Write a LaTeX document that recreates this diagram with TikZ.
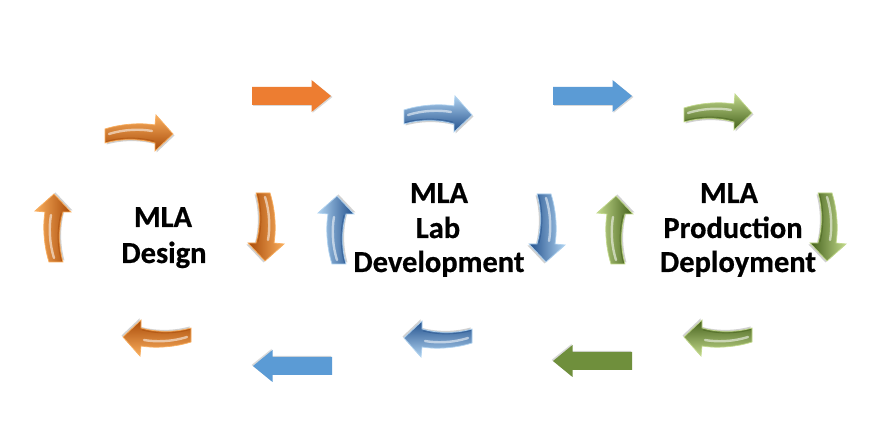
\documentclass[tikz,border=0pt]{standalone}
\usepackage{fontspec}
\setmainfont{Carlito}[BoldFeatures={FakeBold=0.6}]
\definecolor{Lorg}{HTML}{F9AE5E}
\definecolor{org}{HTML}{E9821F}
\definecolor{Dorg}{HTML}{A84A08}
\definecolor{Lblu}{HTML}{AFD2F0}
\definecolor{blu}{HTML}{5090D2}
\definecolor{Dblu}{HTML}{22508C}
\definecolor{Lgrn}{HTML}{C2D98C}
\definecolor{grn}{HTML}{7FA23A}
\definecolor{Dgrn}{HTML}{44601B}
\definecolor{forg}{HTML}{ED7D31}
\definecolor{fblu}{HTML}{5B9BD5}
\definecolor{fgrn}{HTML}{6F8F3C}
\tikzset{
  bevang/.store in=\bevang, bevang=0,
  bevcol/.store in=\bevcol, bevcol=org,
  flatcol/.store in=\flatcol, flatcol=forg,
  bev/.pic={
    \fill[black,opacity=0.18] (-32.5,-11.5) -- (-32.5,2.5) .. controls (-13.5,8.5) and (6.5,8.5) .. (17.5,6.5) -- (18.5,16.5) -- (35.5,-2.5) -- (17.5,-19.5) -- (17.5,-11.5) .. controls (3.5,-7.5) and (-14.5,-6.5) .. cycle;
    \shade[top color=L\bevcol, middle color=\bevcol, bottom color=D\bevcol, shading angle=\bevang, draw=L\bevcol, line width=0.7pt]
      (-34,-10) -- (-34,4) .. controls (-15,10) and (5,10) .. (16,8) -- (17,18) -- (34,-1) -- (16,-18) -- (16,-10) .. controls (2,-6) and (-16,-5) .. cycle;
    \draw[white,opacity=0.55,line width=2.4pt,line cap=round] (-30,-1) .. controls (-14,4) and (2,4) .. (13,2);
    \draw[D\bevcol,opacity=0.5,line width=0.8pt] (-33,-8.5) .. controls (-16,-3.5) and (2,-4.5) .. (15,-8);
  },
  flat/.pic={
    \fill[black,opacity=0.15] (-38.5,8) -- (21,8) -- (21,15) -- (41,-1) -- (21,-17) -- (21,-10) -- (-38.5,-10) -- cycle;
    \fill[\flatcol] (-39.5,9) -- (20,9) -- (20,16) -- (39.5,0) -- (20,-16) -- (20,-9) -- (-39.5,-9) -- cycle;
  },
  lbl/.style={font=\fontsize{30.5}{35}\selectfont\bfseries, inner sep=0pt, anchor=base}
}
\begin{document}
\begin{tikzpicture}[x=1pt,y=1pt]
\useasboundingbox[fill=white] (0,0) rectangle (876,433);
% flat arrows
\pic[flatcol=forg] at (291.5,337) {flat};
\pic[flatcol=fblu] at (592.5,337) {flat};
\pic[flatcol=fblu, rotate=180] at (292.5,67) {flat};
\pic[flatcol=fgrn, rotate=180] at (592.5,72) {flat};
% bevel arrows - orange
\pic[bevcol=org, bevang=90, rotate=90] at (53,205) {bev};
\pic[bevcol=org, bevang=0] at (139,300) {bev};
\pic[bevcol=org, bevang=-90, rotate=-90] at (266,206) {bev};
\pic[bevcol=org, bevang=180, rotate=180] at (157,95) {bev};
% blue
\pic[bevcol=blu, bevang=90, rotate=90] at (336,203) {bev};
\pic[bevcol=blu, bevang=0] at (438,319) {bev};
\pic[bevcol=blu, bevang=-90, rotate=-90] at (547,205) {bev};
\pic[bevcol=blu, bevang=180, rotate=180] at (438,94) {bev};
% green
\pic[bevcol=grn, bevang=90, rotate=90] at (615,203) {bev};
\pic[bevcol=grn, bevang=0] at (718,321) {bev};
\pic[bevcol=grn, bevang=-90, rotate=-90] at (828,206) {bev};
\pic[bevcol=grn, bevang=180, rotate=180] at (718,95) {bev};
% labels
\node[lbl] (d1) at (163,206) {MLA};
\node[lbl] (d2) at (164,170) {Design};
\node[lbl] (l1) at (439,230) {MLA};
\node[lbl] (l2) at (438,195) {Lab};
\node[lbl] (l3) at (439,161) {Development};
\node[lbl] (p1) at (729,230) {MLA};
\node[lbl] (p2) at (733,195) {Production};
\node[lbl] (p3) at (738,161) {Deployment};
\end{tikzpicture}
\end{document}
